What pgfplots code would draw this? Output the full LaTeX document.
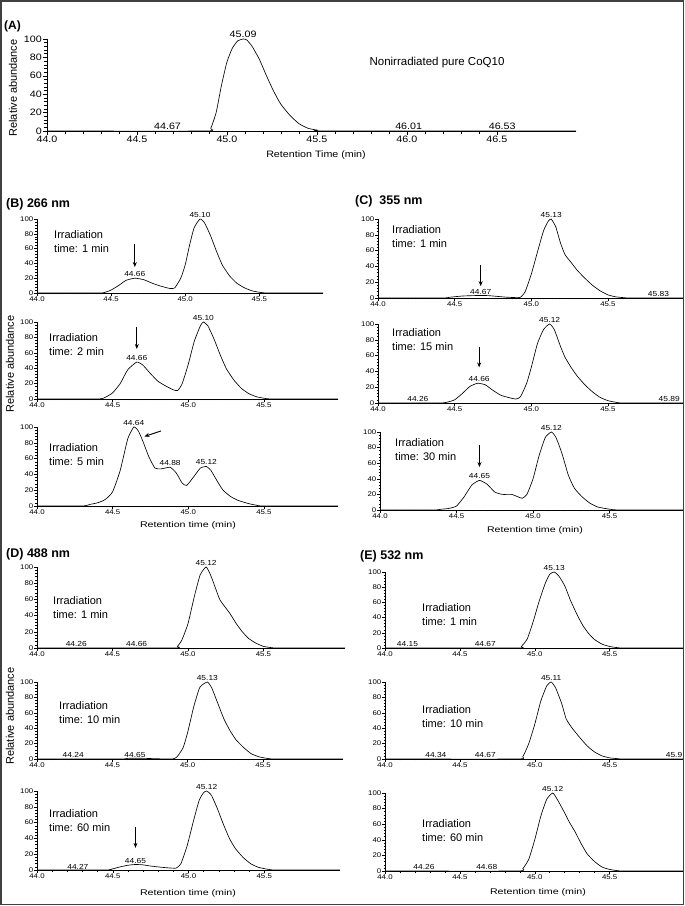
\documentclass[border=0pt]{standalone}
\usepackage{fontspec}
\setmainfont{Liberation Sans}
\newfontfamily\nfont[FakeStretch=1.15]{Liberation Sans}
\newfontfamily\wfont[FakeStretch=1.3]{Liberation Sans}
\usepackage{pgfplots}
\pgfplotsset{compat=1.18}
\usetikzlibrary{arrows.meta}
\pgfplotsset{
  chrom/.style={
    scale only axis, anchor=south west,
    axis lines=left, axis line style={-, line width=0.6pt},
    xmin=44, ymin=0, ymax=100,
    ytick={0,20,40,60,80,100}, minor y tick num=4,
    xtick={44,44.5,45,45.5},
    /pgf/number format/assume math mode=true,
    xticklabel style={/pgf/number format/.cd, fixed, fixed zerofill, precision=1},
    tick align=outside,
    major tick length=2.6pt, minor tick length=1.5pt,
    tick style={black, line width=0.5pt},
    tick label style={font=\nfont\fontsize{6.8}{8}\selectfont, inner sep=1pt},
    clip=false,
  },
  fine/.style={minor x tick num=24},
  coarse/.style={minor x tick num=4},
}
\tikzset{
  cur/.style={black, line width=0.65pt, smooth, tension=0.3, mark=none},
  pk/.style={anchor=south, inner sep=0.8pt, font=\nfont\fontsize{7.3}{8}\selectfont},
  arr/.style={-{Stealth[length=5pt,width=4pt]}, line width=0.9pt},
  irr/.style={anchor=base west, inner sep=0pt, font=\fontsize{11}{13}\selectfont},
  ttl/.style={anchor=base west, inner sep=0pt, font=\bfseries\fontsize{12.5}{14}\selectfont},
  yl/.style={rotate=90, inner sep=0pt, font=\fontsize{11}{13}\selectfont},
  xl/.style={inner sep=0pt, font=\wfont\fontsize{8.2}{9}\selectfont},
}
\newcommand{\irr}[3]{\node[irr] at (#1pt,#2pt) {Irradiation}; \node[irr] at (#1pt,#2pt-14pt) {time: #3 min};}

\begin{document}
\begin{tikzpicture}
\path[use as bounding box] (0pt,0pt) rectangle (685pt,906pt);
\draw[black!75, line width=1.2pt] (1pt,1.5pt) rectangle (683.5pt,905pt);

% ---------------- (A)
\node[ttl, font=\bfseries\fontsize{12}{14}\selectfont] at (4pt,876pt) {(A)};
\node[yl] at (13pt,818pt) {Relative abundance};
\begin{axis}[chrom, coarse, at={(47pt,775pt)}, width=529pt, height=92pt, xmax=46.94,
  xtick={44,44.5,45,45.5,46,46.5},
  tick label style={font=\nfont\fontsize{9.3}{10}\selectfont},
  major tick length=4pt, minor tick length=3pt]
\addplot[cur] coordinates {(44,0)(44.88,0)(44.91,3)(44.94,20)(44.97,50)(45.00,75)(45.03,90)(45.06,98)(45.09,100)(45.11,99)(45.14,92)(45.18,78)(45.22,60)(45.26,43)(45.30,29)(45.35,17)(45.40,8)(45.45,3)(45.50,1)(45.56,0)(46.94,0)};
\node[pk, font=\nfont\fontsize{9.3}{10}\selectfont] at (axis cs:45.09,100) {45.09};
\node[pk, font=\nfont\fontsize{9.3}{10}\selectfont] at (axis cs:44.67,0) {44.67};
\node[pk, font=\nfont\fontsize{9.3}{10}\selectfont] at (axis cs:46.01,0) {46.01};
\node[pk, font=\nfont\fontsize{9.3}{10}\selectfont] at (axis cs:46.53,0) {46.53};
\end{axis}
\node[font=\fontsize{11.5}{13}\selectfont] at (437pt,843pt) {Nonirradiated pure CoQ10};
\node[font=\nfont\fontsize{9.3}{10}\selectfont] at (316pt,751pt) {Retention Time (min)};

% ---------------- (B)
\node[ttl] at (6pt,698pt) {(B) 266 nm};
\node[yl] at (10pt,542pt) {Relative abundance};
\begin{axis}[chrom, fine, at={(37pt,613pt)}, width=286pt, height=74pt, xmax=45.93]
\addplot[cur] coordinates {(44,0)(44.42,0)(44.46,1)(44.50,4)(44.55,10)(44.60,17)(44.66,20)(44.72,18)(44.78,13)(44.84,9)(44.90,6)(44.93,7)(44.97,20)(45.00,38)(45.03,65)(45.06,88)(45.10,100)(45.13,95)(45.17,78)(45.21,57)(45.25,38)(45.30,23)(45.35,13)(45.40,7)(45.45,3)(45.50,1)(45.56,0)(45.93,0)};
\node[pk] at (axis cs:45.10,100) {45.10};
\node[pk] at (axis cs:44.66,21) {44.66};
\draw[arr] (axis cs:44.66,66) -- (axis cs:44.66,35);
\end{axis}
\irr{54}{667}{1}
\begin{axis}[chrom, fine, at={(37pt,507pt)}, width=301pt, height=77pt, xmax=45.99]
\addplot[cur] coordinates {(44,0)(44.40,0)(44.45,2)(44.50,8)(44.55,20)(44.60,38)(44.66,48)(44.70,44)(44.75,33)(44.80,23)(44.85,17)(44.90,12)(44.93,11)(44.96,20)(45.00,45)(45.04,75)(45.08,95)(45.10,100)(45.13,95)(45.17,78)(45.21,58)(45.25,40)(45.30,25)(45.35,14)(45.40,7)(45.45,3)(45.50,1)(45.56,0)(45.99,0)};
\node[pk] at (axis cs:45.10,100) {45.10};
\node[pk] at (axis cs:44.66,49) {44.66};
\draw[arr] (axis cs:44.66,94) -- (axis cs:44.66,65);
\end{axis}
\irr{49}{564}{2}
\begin{axis}[chrom, fine, at={(37pt,400pt)}, width=301pt, height=79pt, xmax=45.99]
\addplot[cur] coordinates {(44,0)(44.30,0)(44.35,2)(44.40,4)(44.45,8)(44.50,18)(44.55,45)(44.60,85)(44.64,100)(44.67,95)(44.70,82)(44.74,62)(44.78,48)(44.82,47)(44.88,49)(44.92,42)(44.96,29)(44.99,26)(45.04,38)(45.08,48)(45.12,50)(45.15,45)(45.19,32)(45.23,20)(45.28,12)(45.33,7)(45.40,3)(45.45,1)(45.50,0)(45.99,0)};
\node[pk] at (axis cs:44.64,100) {44.64};
\node[pk] at (axis cs:44.88,50) {44.88};
\node[pk] at (axis cs:45.12,51) {45.12};
\draw[arr] (axis cs:44.82,95) -- (axis cs:44.71,88);
\end{axis}
\irr{49}{454}{5}
\node[xl] at (188pt,381pt) {Retention time (min)};

% ---------------- (C)
\node[ttl] at (355pt,701pt) {(C)\ \ 355 nm};
\begin{axis}[chrom, fine, at={(378pt,608pt)}, width=305pt, height=79pt, xmax=45.99]
\addplot[cur] coordinates {(44,0)(44.42,0)(44.47,1)(44.55,2.5)(44.62,3)(44.67,3.2)(44.72,3)(44.78,2)(44.84,1)(44.90,0.5)(44.93,1)(44.96,8)(45.00,30)(45.04,58)(45.08,85)(45.11,97)(45.13,100)(45.16,90)(45.19,70)(45.22,55)(45.26,45)(45.30,35)(45.35,25)(45.40,16)(45.45,9)(45.50,4)(45.55,1.5)(45.60,0.5)(45.65,0)(45.99,0)};
\node[pk] at (axis cs:45.13,100) {45.13};
\node[pk] at (axis cs:44.67,3.5) {44.67};
\node[pk] at (axis cs:45.83,0) {45.83};
\draw[arr] (axis cs:44.67,42) -- (axis cs:44.67,15);
\end{axis}
\irr{392}{672}{1}
\begin{axis}[chrom, coarse, at={(378pt,503pt)}, width=305pt, height=79pt, xmax=45.99]
\addplot[cur] coordinates {(44,0)(44.40,0)(44.45,1)(44.50,4)(44.55,12)(44.60,21)(44.65,25)(44.70,23)(44.75,16)(44.80,10)(44.85,7)(44.90,5)(44.93,8)(44.97,25)(45.00,45)(45.04,75)(45.08,93)(45.12,100)(45.15,93)(45.19,72)(45.22,58)(45.26,45)(45.30,34)(45.35,23)(45.40,14)(45.45,7)(45.50,3)(45.55,1)(45.60,0)(45.99,0)};
\node[pk] at (axis cs:45.12,100) {45.12};
\node[pk] at (axis cs:44.66,26) {44.66};
\node[pk] at (axis cs:44.26,0) {44.26};
\node[pk] at (axis cs:45.90,0) {45.89};
\draw[arr] (axis cs:44.66,71) -- (axis cs:44.66,45);
\end{axis}
\irr{392}{569}{15}
\begin{axis}[chrom, coarse, at={(380pt,396pt)}, width=303pt, height=78pt, xmax=45.98]
\addplot[cur] coordinates {(44,0)(44.35,0)(44.40,1)(44.45,2)(44.50,5)(44.55,17)(44.60,32)(44.65,38)(44.70,33)(44.75,23)(44.80,20)(44.86,20)(44.90,17)(44.93,15)(44.96,20)(45.00,40)(45.04,70)(45.08,93)(45.12,100)(45.15,93)(45.19,72)(45.23,45)(45.27,28)(45.32,17)(45.37,9)(45.42,4)(45.47,2)(45.52,0.5)(45.58,0)(45.98,0)};
\node[pk] at (axis cs:45.12,100) {45.12};
\node[pk] at (axis cs:44.65,39) {44.65};
\draw[arr] (axis cs:44.65,83) -- (axis cs:44.65,55);
\end{axis}
\irr{395}{459}{30}
\node[xl] at (535pt,376pt) {Retention time (min)};

% ---------------- (D)
\node[ttl] at (6pt,348pt) {(D) 488 nm};
\node[yl] at (10pt,190pt) {Relative abundance};
\begin{axis}[chrom, fine, at={(37pt,258pt)}, width=308pt, height=81pt, xmax=46.04]
\addplot[cur] coordinates {(44,0)(44.90,0)(44.93,2)(44.96,10)(45.00,30)(45.04,62)(45.08,90)(45.12,100)(45.15,90)(45.18,75)(45.21,60)(45.24,52)(45.28,42)(45.32,30)(45.36,20)(45.40,12)(45.45,6)(45.50,2)(45.55,0.5)(45.60,0)(46.04,0)};
\node[pk] at (axis cs:45.12,100) {45.12};
\node[pk] at (axis cs:44.26,0) {44.26};
\node[pk] at (axis cs:44.66,0) {44.66};
\end{axis}
\irr{53}{301}{1}
\begin{axis}[chrom, coarse, at={(37pt,147pt)}, width=306pt, height=77pt, xmax=46.03]
\addplot[cur] coordinates {(44,0)(44.55,0)(44.60,0.8)(44.65,1)(44.72,0.8)(44.80,0.3)(44.90,0)(44.93,3)(44.97,15)(45.00,35)(45.04,68)(45.08,93)(45.13,100)(45.16,92)(45.20,72)(45.24,52)(45.28,37)(45.32,25)(45.37,15)(45.42,7)(45.47,3)(45.52,1)(45.58,0)(46.03,0)};
\node[pk] at (axis cs:45.13,100) {45.13};
\node[pk] at (axis cs:44.24,0) {44.24};
\node[pk] at (axis cs:44.65,1) {44.65};
\end{axis}
\irr{59}{196}{10}
\begin{axis}[chrom, coarse, at={(37pt,36pt)}, width=303pt, height=79pt, xmax=46.0]
\addplot[cur] coordinates {(44,0)(44.45,0)(44.50,1.5)(44.55,4)(44.60,6)(44.65,7)(44.70,6.5)(44.75,5)(44.82,3.5)(44.88,2.5)(44.92,2.5)(44.95,8)(44.99,30)(45.03,60)(45.07,88)(45.10,98)(45.12,100)(45.15,95)(45.19,78)(45.23,58)(45.27,40)(45.31,27)(45.36,16)(45.41,8)(45.46,3.5)(45.52,1)(45.58,0)(46.0,0)};
\node[pk] at (axis cs:45.12,100) {45.12};
\node[pk] at (axis cs:44.27,0) {44.27};
\node[pk] at (axis cs:44.65,7.5) {44.65};
\draw[arr] (axis cs:44.65,54) -- (axis cs:44.65,28);
\end{axis}
\irr{49}{88}{60}
\node[xl] at (188pt,13pt) {Retention time (min)};

% ---------------- (E)
\node[ttl] at (360pt,346pt) {(E) 532 nm};
\begin{axis}[chrom, fine, at={(385pt,258pt)}, width=298pt, height=76pt, xmax=45.99]
\addplot[cur] coordinates {(44,0)(44.88,0)(44.91,2)(44.95,12)(44.99,35)(45.03,62)(45.07,85)(45.10,97)(45.13,100)(45.16,95)(45.20,82)(45.24,62)(45.28,45)(45.32,30)(45.36,19)(45.40,11)(45.45,5)(45.50,2)(45.55,0.5)(45.60,0)(45.99,0)};
\node[pk] at (axis cs:45.13,100) {45.13};
\node[pk] at (axis cs:44.15,0) {44.15};
\node[pk] at (axis cs:44.67,0) {44.67};
\end{axis}
\irr{422}{294}{1}
\begin{axis}[chrom, coarse, at={(385pt,147pt)}, width=298pt, height=77pt, xmax=45.99]
\addplot[cur] coordinates {(44,0)(44.88,0)(44.92,3)(44.96,20)(45.00,45)(45.04,75)(45.08,95)(45.11,100)(45.14,92)(45.18,72)(45.21,52)(45.25,40)(45.30,28)(45.35,17)(45.40,9)(45.45,4)(45.50,1.5)(45.55,0.5)(45.60,0)(45.99,0)};
\node[pk] at (axis cs:45.11,100) {45.11};
\node[pk] at (axis cs:44.34,0) {44.34};
\node[pk] at (axis cs:44.67,0) {44.67};
\node[pk] at (axis cs:45.93,0) {45.9};
\end{axis}
\irr{422}{192}{10}
\begin{axis}[chrom, coarse, at={(385pt,35pt)}, width=298pt, height=78pt, xmax=45.99]
\addplot[cur] coordinates {(44,0)(44.88,0)(44.92,3)(44.96,15)(45.00,40)(45.04,70)(45.08,92)(45.12,100)(45.15,92)(45.19,78)(45.23,63)(45.27,50)(45.31,35)(45.35,22)(45.40,12)(45.45,5)(45.50,2)(45.55,0.5)(45.60,0)(45.99,0)};
\node[pk] at (axis cs:45.12,100) {45.12};
\node[pk] at (axis cs:44.26,0) {44.26};
\node[pk] at (axis cs:44.68,0) {44.68};
\end{axis}
\irr{422}{78}{60}
\node[xl] at (538pt,14pt) {Retention time (min)};
\end{tikzpicture}
\end{document}
